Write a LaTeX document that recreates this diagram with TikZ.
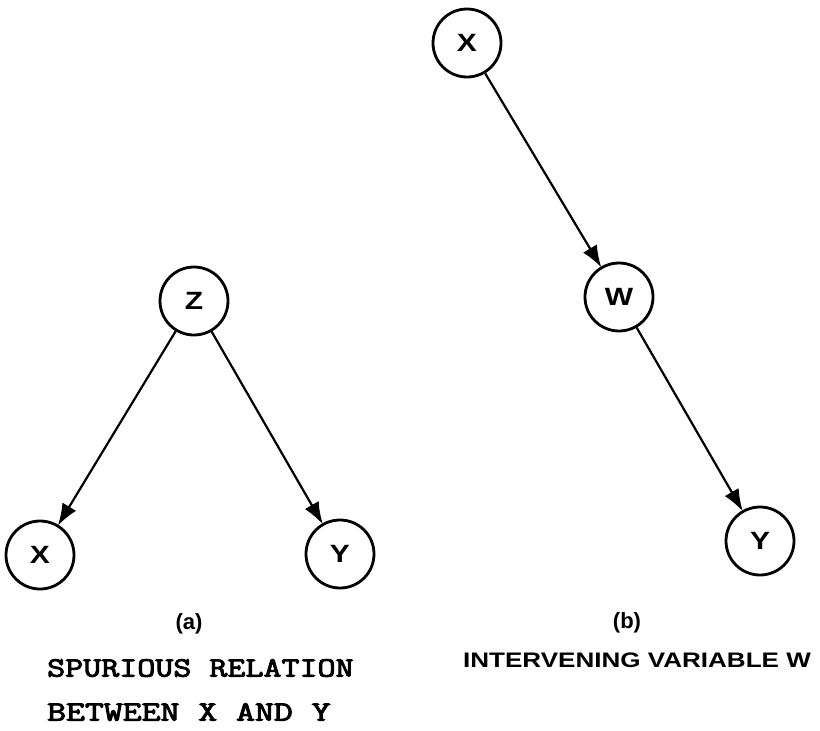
\documentclass[tikz,border=0pt]{standalone}
\usepackage{fontspec}
\usepackage{graphicx}
\setmainfont{Liberation Sans}
\newfontfamily\typew{Latin Modern Mono}[FakeBold=3]
\usetikzlibrary{arrows.meta}
\begin{document}
\begin{tikzpicture}[x=1pt,y=-1pt,
  var/.style={circle,draw,line width=2.8pt,minimum size=68pt,inner sep=0pt,
              font=\fontsize{25}{25}\selectfont\bfseries},
  link/.style={line width=2.2pt,-{Latex[length=22pt,width=16pt]},shorten >=-1pt},
  caplabel/.style={font=\fontsize{22}{22}\selectfont\bfseries},
  monotext/.style={font=\fontsize{28}{28}\typew,anchor=west,inner sep=0pt}]
\fill[white] (0,0) rectangle (820,731);
\useasboundingbox (0,0) rectangle (820,731);
% (a)
\node[var] (z) at (194,301) {\scalebox{1.2}[1]{Z}};
\node[var] (xa) at (40,555) {\scalebox{1.2}[1]{X}};
\node[var] (ya) at (340,554) {\scalebox{1.2}[1]{Y}};
\draw[link] (z) -- (xa);
\draw[link] (z) -- (ya);
\node[caplabel] (capa) at (189,624) {(a)};
\node[monotext] (t1) at (47,668) {\scalebox{1.25}[1]{SPURIOUS RELATION}};
\node[monotext] (t2) at (47,712) {\scalebox{1.31}[1]{BETWEEN X AND Y}};
% (b)
\node[var] (xb) at (467,43) {\scalebox{1.2}[1]{X}};
\node[var] (w) at (619,297) {\scalebox{1.2}[1]{W}};
\node[var] (yb) at (760,541) {\scalebox{1.2}[1]{Y}};
\draw[link] (xb) -- (w);
\draw[link] (w) -- (yb);
\node[caplabel] (capb) at (627,623) {(b)};
\node[font=\fontsize{21}{21}\selectfont\bfseries,inner sep=0pt] (t3) at (637,660) {\scalebox{1.24}[1]{INTERVENING VARIABLE W}};
\end{tikzpicture}
\end{document}
